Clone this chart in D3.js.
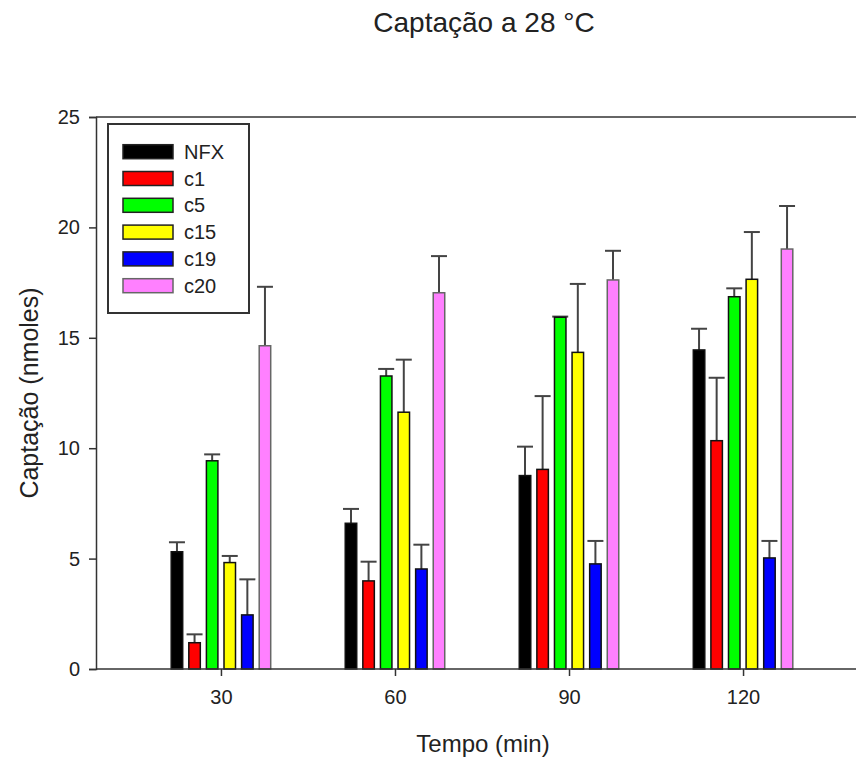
<!DOCTYPE html>
<html>
<head>
<meta charset="utf-8">
<script src="https://cdn.jsdelivr.net/npm/d3@7"></script>
<style>
  body { margin: 0; background: #fff; }
  text { font-family: "Liberation Sans", Arial, sans-serif; fill: #222; }
</style>
</head>
<body>
<div id="chart"></div>
<script>
// data
const times = ["30", "60", "90", "120"];
const series = ["NFX", "c1", "c5", "c15", "c19", "c20"];
const colors = ["#000000", "#ff0000", "#00ff00", "#ffff00", "#0000ff", "#ff80ff"];
const means = [
  [5.31, 6.60, 8.76, 14.45],   // NFX
  [1.19, 3.99, 9.04, 10.34],   // c1
  [9.43, 13.27, 15.93, 16.86], // c5
  [4.82, 11.63, 14.34, 17.65], // c15
  [2.45, 4.53, 4.76, 5.03],    // c19
  [14.64, 17.04, 17.62, 19.02] // c20
];
const upper = [
  [5.74, 7.25, 10.07, 15.41],
  [1.57, 4.86, 12.36, 13.19],
  [9.72, 13.59, 15.96, 17.24],
  [5.12, 14.01, 17.44, 19.79],
  [4.06, 5.63, 5.80, 5.80],
  [17.31, 18.70, 18.94, 20.97]
];
const yTicks = [0, 5, 10, 15, 20, 25];

const width = 856, height = 760;
const margin = { left: 96, top: 117, bottom: 91 };
const plotRight = 868;

const svg = d3.select("#chart").append("svg")
  .attr("width", width)
  .attr("height", height);

const x = d3.scalePoint()
  .domain(times)
  .range([margin.left, plotRight])
  .padding(0.718);

const y = d3.scaleLinear()
  .domain([0, 25])
  .range([height - margin.bottom, margin.top]);

const barStep = 17.6, barW = 11.5;

// title
svg.append("text")
  .attr("x", 484).attr("y", 32)
  .attr("text-anchor", "middle")
  .style("font-size", "28px")
  .text("Captação a 28 °C");

// bars + error bars
const g = svg.append("g");
series.forEach((s, i) => {
  times.forEach((t, j) => {
    const cx = x(t) + (i - 2.5) * barStep;
    const v = means[i][j], u = upper[i][j];
    // error bar (upper only)
    g.append("line")
      .attr("x1", cx).attr("x2", cx)
      .attr("y1", y(v)).attr("y2", y(u))
      .attr("stroke", "#444").attr("stroke-width", 2);
    g.append("line")
      .attr("x1", cx - 8).attr("x2", cx + 8)
      .attr("y1", y(u)).attr("y2", y(u))
      .attr("stroke", "#444").attr("stroke-width", 2);
    g.append("rect")
      .attr("x", cx - barW / 2)
      .attr("y", y(v))
      .attr("width", barW)
      .attr("height", y(0) - y(v))
      .attr("fill", colors[i])
      .attr("stroke", i === 5 ? "#666" : "#111")
      .attr("stroke-width", 1.5);
  });
});

// frame
svg.append("line")
  .attr("x1", margin.left).attr("x2", plotRight)
  .attr("y1", y(25)).attr("y2", y(25))
  .attr("stroke", "#333").attr("stroke-width", 1.5);

// axes
const yAxis = svg.append("g")
  .attr("transform", `translate(${margin.left},0)`)
  .call(d3.axisLeft(y).tickValues(yTicks).tickSize(7).tickPadding(9));
const xAxis = svg.append("g")
  .attr("transform", `translate(0,${y(0)})`)
  .call(d3.axisBottom(x).tickSize(7).tickPadding(14));

[yAxis, xAxis].forEach(a => {
  a.attr("font-size", null).attr("font-family", null);
  a.select(".domain").attr("stroke", "#333").attr("stroke-width", 1.5);
  a.selectAll(".tick line").attr("stroke", "#333").attr("stroke-width", 1.5);
  a.selectAll(".tick text")
    .style("font-size", "20px")
    .attr("fill", "#222");
});
xAxis.select(".domain").attr("d", `M${margin.left},0H${plotRight}`);

// axis titles
svg.append("text")
  .attr("x", 483).attr("y", 752)
  .attr("text-anchor", "middle")
  .style("font-size", "24px")
  .text("Tempo (min)");

svg.append("text")
  .attr("transform", `translate(38,${(y(0) + y(25)) / 2}) rotate(-90)`)
  .attr("text-anchor", "middle")
  .style("font-size", "25px")
  .text("Captação (nmoles)");

// legend
const legend = svg.append("g");
legend.append("rect")
  .attr("x", 108).attr("y", 124)
  .attr("width", 141).attr("height", 189)
  .attr("fill", "#fff")
  .attr("stroke", "#333").attr("stroke-width", 2);
series.forEach((s, i) => {
  const cy = 151.7 + i * 26.8;
  legend.append("rect")
    .attr("x", 123).attr("y", cy - 7)
    .attr("width", 50).attr("height", 14)
    .attr("fill", colors[i])
    .attr("stroke", i === 5 ? "#666" : "#222")
    .attr("stroke-width", 1.5);
  legend.append("text")
    .attr("x", 184).attr("y", cy + 7)
    .style("font-size", "20px")
    .text(s);
});
</script>
</body>
</html>
